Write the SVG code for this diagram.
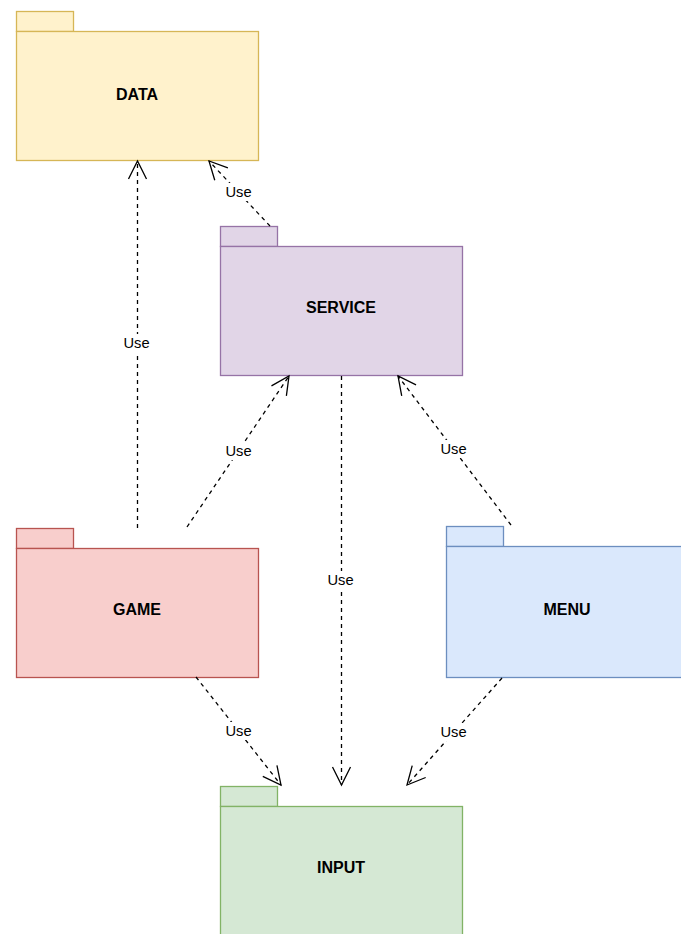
<svg xmlns="http://www.w3.org/2000/svg" width="681" height="934" viewBox="0 0 681 934">
  <style>
    .pkg text { font-family: "Liberation Sans", Arial, sans-serif; font-size: 16px; font-weight: bold; fill: #000; text-anchor: middle; dominant-baseline: central; }
    .pkg rect { stroke-width: 1.3; }
    .edge { fill: none; stroke: #000; stroke-width: 1.3; stroke-dasharray: 4 4; }
    .lbl rect { fill: #fff; }
    .lbl text { font-family: "Liberation Sans", Arial, sans-serif; font-size: 14.7px; fill: #000; text-anchor: middle; dominant-baseline: central; }
    .yellow { fill: #fff2cc; stroke: #d6b656; }
    .purple { fill: #e1d5e7; stroke: #9673a6; }
    .red { fill: #f8cecc; stroke: #b85450; }
    .blue { fill: #dae8fc; stroke: #6c8ebf; }
    .green { fill: #d5e8d4; stroke: #82b366; }
  </style>
  <defs>
    <marker id="open" markerUnits="userSpaceOnUse" markerWidth="22" markerHeight="22" viewBox="-20 -11 22 22" refX="0" refY="0" orient="auto" overflow="visible">
      <path d="M-18,-9 L0,0 L-18,9" fill="none" stroke="#000" stroke-width="1.3"/>
    </marker>
  </defs>

  <rect width="681" height="934" fill="#fff"/>

  <!-- packages -->
  <g id="data" class="pkg">
    <rect class="yellow" x="16.5" y="11.5" width="57" height="20"/>
    <rect class="yellow" x="16.5" y="31.5" width="242" height="129"/>
    <text x="137" y="94">DATA</text>
  </g>
  <g id="service" class="pkg">
    <rect class="purple" x="220.5" y="226.5" width="57" height="20"/>
    <rect class="purple" x="220.5" y="246.5" width="242" height="129"/>
    <text x="341" y="307">SERVICE</text>
  </g>
  <g id="game" class="pkg">
    <rect class="red" x="16.5" y="528.5" width="57" height="20"/>
    <rect class="red" x="16.5" y="548.5" width="242" height="129"/>
    <text x="137" y="609">GAME</text>
  </g>
  <g id="menu" class="pkg">
    <rect class="blue" x="446.5" y="526.5" width="57" height="20"/>
    <rect class="blue" x="446.5" y="546.5" width="242" height="131"/>
    <text x="567" y="609">MENU</text>
  </g>
  <g id="input" class="pkg">
    <rect class="green" x="220.5" y="786.5" width="57" height="20"/>
    <rect class="green" x="220.5" y="806.5" width="242" height="140"/>
    <text x="341" y="867">INPUT</text>
  </g>

  <!-- dependencies -->
  <g id="connectors">
    <path class="edge" d="M137.5,528 L137.5,161" marker-end="url(#open)"/>
    <path class="edge" d="M270,226 L209,161" marker-end="url(#open)"/>
    <path class="edge" d="M187,527 L289,376" marker-end="url(#open)"/>
    <path class="edge" d="M511,525 L398,376" marker-end="url(#open)"/>
    <path class="edge" d="M341.5,376 L341.5,785" marker-end="url(#open)"/>
    <path class="edge" d="M196,677 L281,785" marker-end="url(#open)"/>
    <path class="edge" d="M502,678 L407,785" marker-end="url(#open)"/>

    <g class="lbl">
      <rect x="121" y="334" width="31" height="18"/><text x="136.5" y="343">Use</text>
      <rect x="223" y="183" width="31" height="18"/><text x="238.5" y="192">Use</text>
      <rect x="223" y="442" width="31" height="18"/><text x="238.5" y="451">Use</text>
      <rect x="438" y="440" width="31" height="18"/><text x="453.5" y="449">Use</text>
      <rect x="325" y="571" width="31" height="18"/><text x="340.5" y="580">Use</text>
      <rect x="223" y="722" width="31" height="18"/><text x="238.5" y="731">Use</text>
      <rect x="438" y="723" width="31" height="18"/><text x="453.5" y="732">Use</text>
    </g>
  </g>
</svg>
